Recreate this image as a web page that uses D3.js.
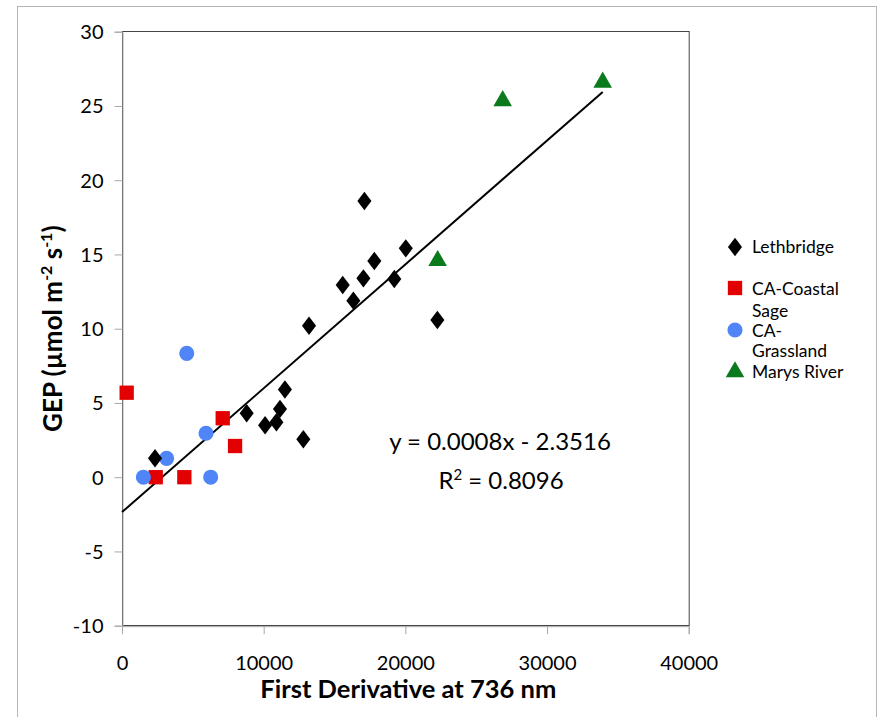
<!DOCTYPE html>
<html>
<head>
<meta charset="utf-8">
<script src="https://cdn.jsdelivr.net/npm/d3@7"></script>
<style>
  body { margin: 0; background: #fff; }
  svg { display: block; font-family: Lato, "Open Sans", sans-serif; }
</style>
</head>
<body>
<div id="chart"></div>
<script>
// series values
const lethX = [2330, 8800, 10100, 10900, 11150, 11500, 12800, 13200, 15580, 16330, 17040, 17110, 17810, 19220, 20030, 22260];
const lethY = [1.27, 4.3, 3.5, 3.7, 4.6, 5.9, 2.55, 10.2, 12.94, 11.89, 13.39, 18.6, 14.56, 13.35, 15.41, 10.59];
const coastX = [330, 2380, 4400, 7110, 7980];
const coastY = [5.69, 0, 0, 3.97, 2.1];
const grassX = [1510, 3150, 4570, 5930, 6260];
const grassY = [0, 1.27, 8.34, 2.96, 0];
const marysX = [22280, 26870, 33930];
const marysY = [14.58, 25.35, 26.59];

// trendline (Excel linear fit)
const trendXRange = [0, 33930];
const trendSlope = 0.000834;
const trendIntercept = -2.3516;

const xTicks = [0, 10000, 20000, 30000, 40000];
const yTicks = [-10, -5, 0, 5, 10, 15, 20, 25, 30];

const seriesNames = ["Lethbridge", "CA-Coastal Sage", "CA-Grassland", "Marys River"];

const W = 881, H = 717;
const svg = d3.select("#chart").append("svg")
    .attr("width", W).attr("height", H);

// outer chart frame
svg.append("rect")
    .attr("x", 17.5).attr("y", 6.5)
    .attr("width", 859).attr("height", 720)
    .attr("fill", "#fff").attr("stroke", "#b5b5b5");

const x = d3.scaleLinear().domain([0, 40000]).range([122, 688.7]);
const y = d3.scaleLinear().domain([-10, 30]).range([625.7, 31.7]);

// plot area border
svg.append("rect")
    .attr("x", 122.5).attr("y", 31.5)
    .attr("width", x(40000) - 122).attr("height", y(-10) - y(30))
    .attr("fill", "none").attr("stroke", "#444");

// y axis
const yAxis = svg.append("g")
    .attr("transform", "translate(122.5,0)")
    .call(d3.axisLeft(y).tickValues(yTicks).tickSize(8).tickPadding(11).tickFormat(d => String(d)));
// x axis
const xAxis = svg.append("g")
    .attr("transform", `translate(0,${y(-10) + 0.5})`)
    .call(d3.axisBottom(x).tickValues(xTicks).tickSize(8).tickPadding(22).tickFormat(d => String(d)));

[xAxis, yAxis].forEach(g => {
    g.select(".domain").attr("stroke", "#a8a8a8");
    g.selectAll(".tick line").attr("stroke", "#a8a8a8");
    g.selectAll("text").attr("font-size", 20).attr("fill", "#000")
        .attr("font-family", "Lato, 'Open Sans', sans-serif");
});
yAxis.selectAll("text").attr("dy", "0.35em");

// trendline
svg.append("line")
    .attr("x1", x(trendXRange[0])).attr("y1", y(trendSlope * trendXRange[0] + trendIntercept))
    .attr("x2", x(trendXRange[1])).attr("y2", y(trendSlope * trendXRange[1] + trendIntercept))
    .attr("stroke", "#000").attr("stroke-width", 2);

// markers
const colors = ["#000000", "#e30000", "#4f85f6", "#0b7a1c"];
const shapes = [d3.symbolDiamond, d3.symbolSquare, d3.symbolCircle, d3.symbolTriangle];
const sizes = [130, 205, 180, 150];

function drawSeries(xs, ys, i) {
    const pts = xs.map((v, k) => ({ x: v, y: ys[k] }));
    svg.append("g")
        .selectAll("path")
        .data(pts)
        .join("path")
        .attr("transform", d => `translate(${x(d.x)},${y(d.y)})` + (i === 0 ? " scale(1.15,0.87)" : ""))
        .attr("d", d3.symbol().type(shapes[i]).size(sizes[i]))
        .attr("fill", colors[i]);
}
drawSeries(coastX, coastY, 1);
drawSeries(grassX, grassY, 2);
drawSeries(lethX, lethY, 0);
drawSeries(marysX, marysY, 3);

// equation text
svg.append("text")
    .attr("x", 500).attr("y", 450)
    .attr("text-anchor", "middle").attr("font-size", 24)
    .text("y = 0.0008x - 2.3516");
const r2 = svg.append("text")
    .attr("x", 501).attr("y", 489)
    .attr("text-anchor", "middle").attr("font-size", 24);
r2.append("tspan").text("R");
r2.append("tspan").attr("dy", -9).attr("font-size", 15).text("2");
r2.append("tspan").attr("dy", 9).text(" = 0.8096");

// axis titles
svg.append("text")
    .attr("x", (x(0) + x(40000)) / 2 + 3).attr("y", 698)
    .attr("text-anchor", "middle")
    .attr("font-size", 25.5).attr("font-weight", "bold")
    .text("First Derivative at 736 nm");

const yt = svg.append("text")
    .attr("transform", `translate(62,${(y(30) + y(-10)) / 2}) rotate(-90)`)
    .attr("text-anchor", "middle")
    .attr("font-size", 26).attr("font-weight", "bold");
yt.append("tspan").text("GEP (µmol m");
yt.append("tspan").attr("dy", -10).attr("font-size", 16).text("-2");
yt.append("tspan").attr("dy", 10).text(" s");
yt.append("tspan").attr("dy", -10).attr("font-size", 16).text("-1");
yt.append("tspan").attr("dy", 10).text(")");

// legend
const legendMarkerY = [247, 288, 330, 372];
const legendLines = [["Lethbridge"], ["CA-Coastal", "Sage"], ["CA-", "Grassland"], ["Marys River"]];
const legendTextY = [[253], [295, 316.5], [336.5, 357], [377.5]];
const lg = svg.append("g");
seriesNames.forEach((name, i) => {
    lg.append("path")
        .attr("transform", `translate(735,${legendMarkerY[i]})` + (i === 0 ? " scale(1.15,0.87)" : ""))
        .attr("d", d3.symbol().type(shapes[i]).size(sizes[i]))
        .attr("fill", colors[i]);
    legendLines[i].forEach((t, k) => {
        lg.append("text")
            .attr("x", 752).attr("y", legendTextY[i][k])
            .attr("font-size", 17.5)
            .text(t);
    });
});
</script>
</body>
</html>
